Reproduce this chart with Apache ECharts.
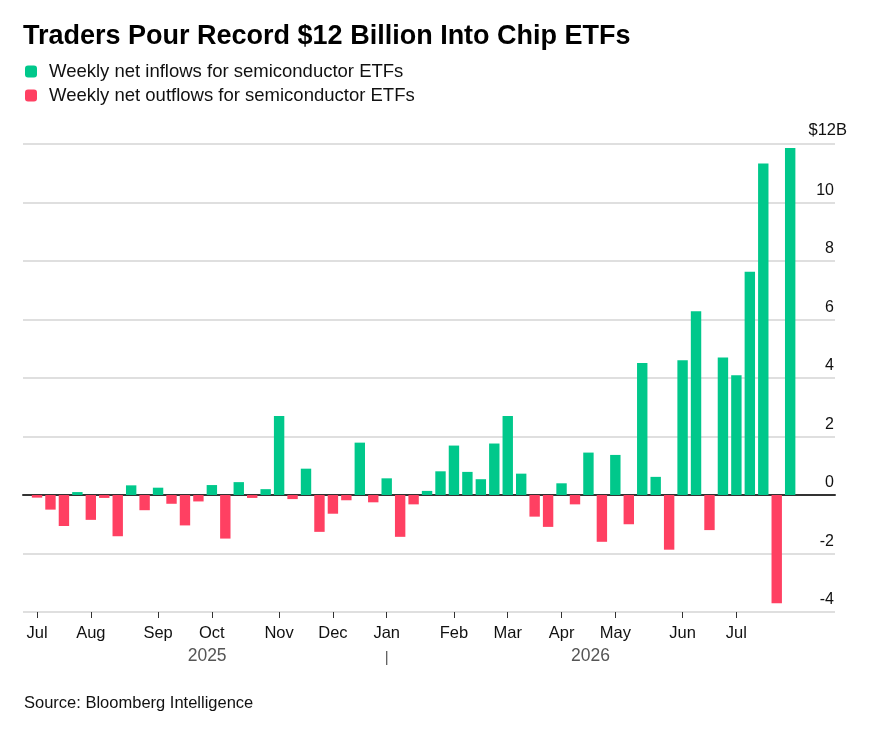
<!DOCTYPE html>
<html>
<head>
<meta charset="utf-8">
<script src="https://cdn.jsdelivr.net/npm/echarts@6/dist/echarts.min.js"></script>
<style>
html,body{margin:0;padding:0;background:#fff;}
#chart{width:884px;height:734px;}
</style>
</head>
<body>
<div id="chart"></div>
<script>
const weeks = [
  '2025-07-04','2025-07-11','2025-07-18','2025-07-25',
  '2025-08-01','2025-08-08','2025-08-15','2025-08-22','2025-08-29',
  '2025-09-05','2025-09-12','2025-09-19','2025-09-26',
  '2025-10-03','2025-10-10','2025-10-17','2025-10-24','2025-10-31',
  '2025-11-07','2025-11-14','2025-11-21','2025-11-28',
  '2025-12-05','2025-12-12','2025-12-19','2025-12-26',
  '2026-01-02','2026-01-09','2026-01-16','2026-01-23','2026-01-30',
  '2026-02-06','2026-02-13','2026-02-20','2026-02-27',
  '2026-03-06','2026-03-13','2026-03-20','2026-03-27',
  '2026-04-03','2026-04-10','2026-04-17','2026-04-24',
  '2026-05-01','2026-05-08','2026-05-15','2026-05-22','2026-05-29',
  '2026-06-05','2026-06-12','2026-06-19','2026-06-26',
  '2026-07-03','2026-07-10','2026-07-17','2026-07-24','2026-07-31'
];
// weekly net flows, $ billions
const netFlows = [
  -0.09, -0.50, -1.06, 0.10,
  -0.85, -0.10, -1.41, 0.33, -0.52,
  0.25, -0.30, -1.04, -0.22,
  0.34, -1.49, 0.44, -0.10, 0.20,
  2.70, -0.14, 0.90, -1.26,
  -0.64, -0.18, 1.79, -0.25,
  0.57, -1.43, -0.32, 0.14, 0.81,
  1.69, 0.79, 0.54, 1.76,
  2.70, 0.73, -0.74, -1.09,
  0.40, -0.32, 1.45, -1.60,
  1.37, -1.00, 4.51, 0.62, -1.87,
  4.61, 6.28, -1.20, 4.70,
  4.09, 7.63, 11.33, -3.70, 11.86
];
const monthNames = ['Jan','Feb','Mar','Apr','May','Jun','Jul','Aug','Sep','Oct','Nov','Dec'];
const yearLabels = ['2025', '2026'];
const yMin = -4, yMax = 12, yStep = 2;
const seriesNames = ['Weekly net inflows for semiconductor ETFs', 'Weekly net outflows for semiconductor ETFs'];
const titleText = 'Traders Pour Record $12 Billion Into Chip ETFs';
const sourceText = 'Source: Bloomberg Intelligence';

const GREEN = '#00C88B', RED = '#FF4062';
const FONT = '"Liberation Sans", Arial, sans-serif';

const inflows = netFlows.map(v => v > 0 ? v : null);
const outflows = netFlows.map(v => v < 0 ? v : null);
const isFirstWeek = (v) => parseInt(v.slice(8, 10), 10) <= 7;

const chart = echarts.init(document.getElementById('chart'), null, {renderer: 'canvas'});

const option = {
  animation: false,
  backgroundColor: '#fff',
  textStyle: {fontFamily: FONT},
  title: {
    text: titleText,
    left: 18, top: 18,
    textStyle: {fontFamily: FONT, fontSize: 27, fontWeight: 'bold', color: '#000'}
  },
  legend: {
    orient: 'vertical',
    left: 20, top: 57,
    itemWidth: 12, itemHeight: 12, itemGap: 5,
    icon: 'roundRect',
    selectedMode: false,
    data: seriesNames,
    textStyle: {fontFamily: FONT, fontSize: 18.5, color: '#111', lineHeight: 18, padding: [0, 0, 0, 7]}
  },
  grid: [
    {left: 30.3, right: 87.1, top: 144, bottom: 122},
    {left: 23, right: 49, top: 144, bottom: 122}
  ],
  xAxis: [
    {
      type: 'category', gridIndex: 0, data: weeks, position: 'bottom',
      boundaryGap: true,
      axisLine: {show: false, onZero: false},
      axisTick: {show: true, alignWithLabel: true, length: 6,
        interval: (i, v) => isFirstWeek(v),
        lineStyle: {color: '#333', width: 1}},
      axisLabel: {
        interval: (i, v) => isFirstWeek(v),
        formatter: (v) => monthNames[parseInt(v.slice(5, 7), 10) - 1],
        fontFamily: FONT, fontSize: 16.5, color: '#111', margin: 13
      },
      splitLine: {show: false}
    },
    {
      type: 'value', gridIndex: 1, min: 0, max: 1,
      axisLine: {show: true, onZero: true, lineStyle: {color: '#333', width: 2}},
      axisTick: {show: false}, axisLabel: {show: false}, splitLine: {show: false}
    }
  ],
  yAxis: [
    {type: 'value', gridIndex: 0, min: yMin, max: yMax, interval: yStep, show: false},
    {
      type: 'value', gridIndex: 1, min: yMin, max: yMax, interval: yStep, position: 'right',
      axisLine: {show: false}, axisTick: {show: false},
      splitLine: {show: true, lineStyle: {color: '#d4d4d4', width: 1.5}},
      axisLabel: {
        inside: true, margin: 1, verticalAlign: 'bottom', padding: [0, 0, 4, 0],
        fontFamily: FONT, fontSize: 16, color: '#111',
        formatter: (v) => v === yMax ? '' : String(v)
      }
    }
  ],
  series: [
    {name: seriesNames[0], type: 'bar', xAxisIndex: 0, yAxisIndex: 0, stack: 'flow',
     data: inflows, barWidth: 10.4, itemStyle: {color: GREEN}},
    {name: seriesNames[1], type: 'bar', xAxisIndex: 0, yAxisIndex: 0, stack: 'flow',
     data: outflows, barWidth: 10.4, itemStyle: {color: RED}}
  ]
};
chart.setOption(option);

// year labels and $12B label positioned from the axes
const px = (i) => chart.convertToPixel({xAxisIndex: 0}, i);
const py = (v) => chart.convertToPixel({yAxisIndex: 1}, v);
const yearSpans = yearLabels.map(y => {
  const idx = weeks.map((w, i) => w.startsWith(y) ? i : -1).filter(i => i >= 0);
  return {label: y, first: idx[0], last: idx[idx.length - 1]};
});
const axisBottom = py(yMin);
const graphics = [];
yearSpans.forEach(s => {
  graphics.push({
    type: 'text', x: (px(s.first) + px(s.last)) / 2 + 2, y: axisBottom + 44,
    style: {text: s.label, fontFamily: FONT, fontSize: 17.5, fill: '#555', align: 'center', verticalAlign: 'middle'}
  });
});
graphics.push({
  type: 'text', x: px(yearSpans[1].first), y: axisBottom + 46,
  style: {text: '|', fontFamily: FONT, fontSize: 15, fill: '#555', align: 'center', verticalAlign: 'middle'}
});
graphics.push({
  type: 'text', x: 847, y: py(yMax) - 5,
  style: {text: '$' + yMax + 'B', fontFamily: FONT, fontSize: 16.5, fill: '#111', align: 'right', verticalAlign: 'bottom'}
});
graphics.push({
  type: 'text', x: 24, y: 703,
  style: {text: sourceText, fontFamily: FONT, fontSize: 16.5, fill: '#111', align: 'left', verticalAlign: 'middle'}
});
chart.setOption({graphic: graphics});
</script>
</body>
</html>
